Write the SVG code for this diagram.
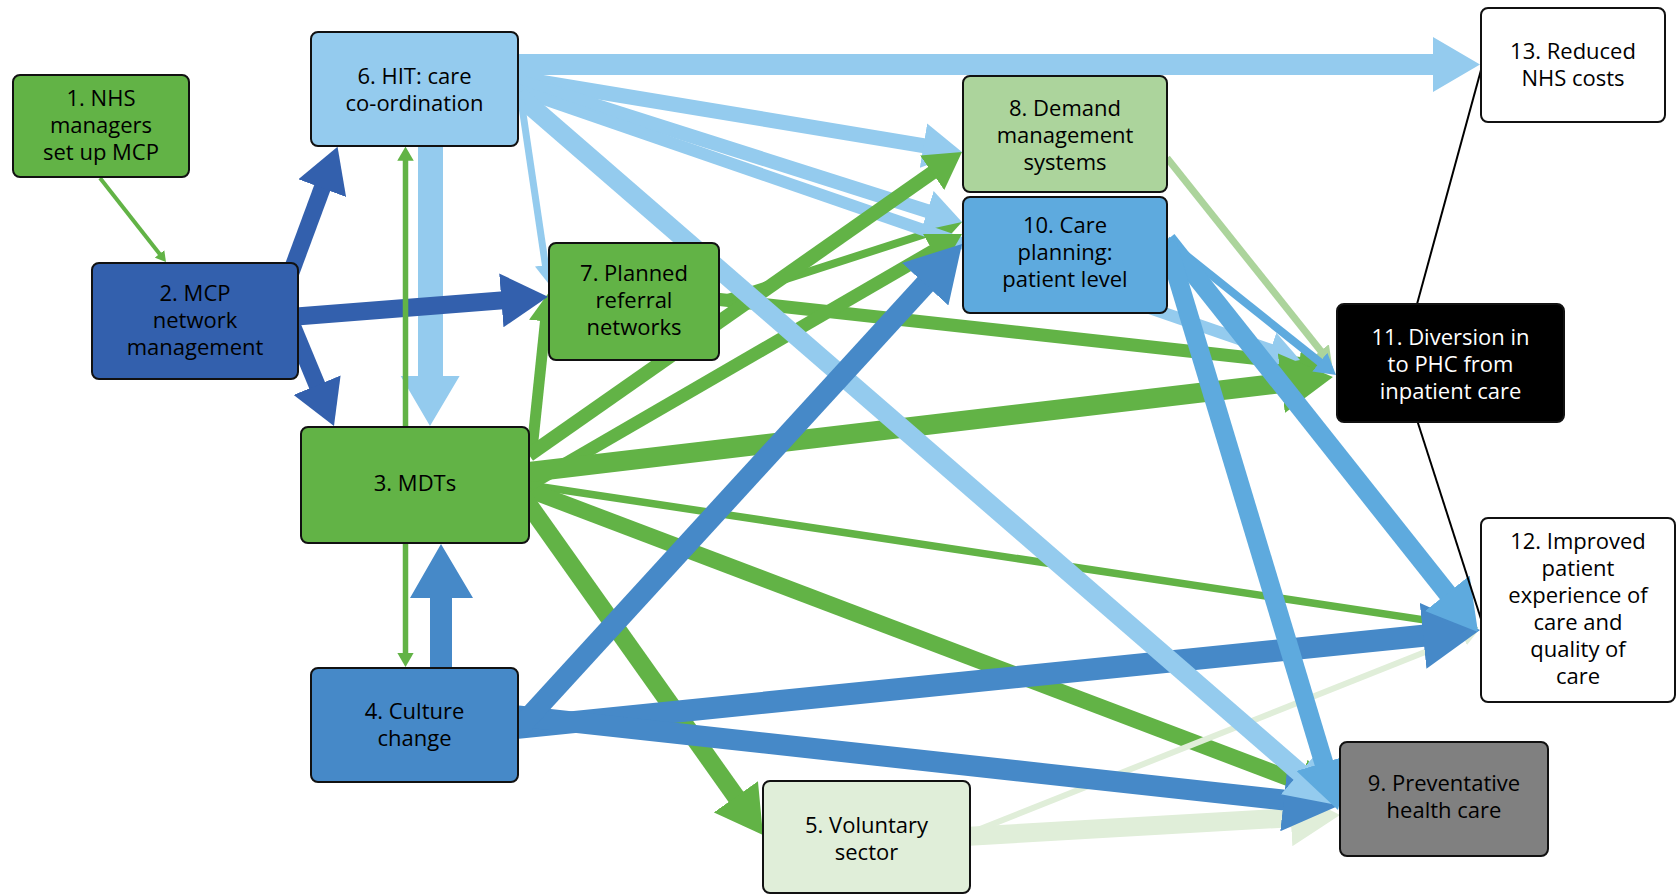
<svg xmlns="http://www.w3.org/2000/svg" width="1677" height="895" viewBox="0 0 1677 895">
<style>
.n{stroke:#111;stroke-width:2}
.t{font-family:"Open Sans","Noto Sans","Liberation Sans",sans-serif;font-size:22px;fill:#000;text-anchor:middle}
.w{fill:#fff}
.g{stroke:#62b346;marker-end:url(#mG)}
.db{stroke:#3360ad;marker-end:url(#mDB)}
.mb{stroke:#4689c8;marker-end:url(#mMB)}
.lb{stroke:#94cbee;marker-end:url(#mLB)}
.cb{stroke:#5eaade;marker-end:url(#mCB)}
.lg{stroke:#acd49c;marker-end:url(#mLG)}
.pg{stroke:#e0eed9;marker-end:url(#mPG)}
.k{stroke:#000;stroke-width:2}
</style>
<defs>
<marker id="mG" viewBox="0 0 2.6 3" refX="0.9" refY="1.5" markerWidth="2.6" markerHeight="3" orient="auto" markerUnits="strokeWidth"><path d="M0,0L2.6,1.5L0,3z" fill="#62b346"/></marker>
<marker id="mDB" viewBox="0 0 2.6 3" refX="0.9" refY="1.5" markerWidth="2.6" markerHeight="3" orient="auto" markerUnits="strokeWidth"><path d="M0,0L2.6,1.5L0,3z" fill="#3360ad"/></marker>
<marker id="mMB" viewBox="0 0 2.6 3" refX="0.9" refY="1.5" markerWidth="2.6" markerHeight="3" orient="auto" markerUnits="strokeWidth"><path d="M0,0L2.6,1.5L0,3z" fill="#4689c8"/></marker>
<marker id="mLB" viewBox="0 0 2.6 3" refX="0.9" refY="1.5" markerWidth="2.6" markerHeight="3" orient="auto" markerUnits="strokeWidth"><path d="M0,0L2.6,1.5L0,3z" fill="#94cbee"/></marker>
<marker id="mCB" viewBox="0 0 2.6 3" refX="0.9" refY="1.5" markerWidth="2.6" markerHeight="3" orient="auto" markerUnits="strokeWidth"><path d="M0,0L2.6,1.5L0,3z" fill="#5eaade"/></marker>
<marker id="mLG" viewBox="0 0 2.6 3" refX="0.9" refY="1.5" markerWidth="2.6" markerHeight="3" orient="auto" markerUnits="strokeWidth"><path d="M0,0L2.6,1.5L0,3z" fill="#acd49c"/></marker>
<marker id="mPG" viewBox="0 0 2.6 3" refX="0.9" refY="1.5" markerWidth="2.6" markerHeight="3" orient="auto" markerUnits="strokeWidth"><path d="M0,0L2.6,1.5L0,3z" fill="#e0eed9"/></marker>
</defs>
<rect width="1677" height="895" fill="#fff"/>
<g id="connectors">
<line class="g" x1="715" y1="299" x2="1311" y2="364.6" stroke-width="13"/>
<line class="g" x1="715" y1="302" x2="949.1" y2="226.2" stroke-width="8"/>
<line class="g" x1="532" y1="450" x2="546.5" y2="311.6" stroke-width="11"/>
<line class="g" x1="529" y1="485" x2="1465.4" y2="626.1" stroke-width="7.5"/>
<line class="g" x1="529" y1="490" x2="1312.6" y2="787.3" stroke-width="16"/>
<line class="g" x1="520" y1="492.3" x2="745.3" y2="810" stroke-width="18"/>
<line class="lb" x1="518" y1="78.5" x2="936.8" y2="147.8" stroke-width="15"/>
<line class="lb" x1="518" y1="81" x2="939.3" y2="214.8" stroke-width="14"/>
<line class="lb" x1="518" y1="90" x2="1280.7" y2="353.3" stroke-width="12"/>
<line class="g" x1="529" y1="455" x2="942.5" y2="165.6" stroke-width="14"/>
<line class="g" x1="529" y1="485" x2="942.9" y2="245.1" stroke-width="13"/>
<line class="g" x1="529" y1="472" x2="1299.2" y2="381" stroke-width="20"/>
<line class="pg" x1="965" y1="836.5" x2="1307.8" y2="816.8" stroke-width="19"/>
<line class="pg" x1="970" y1="833" x2="1468.5" y2="634.8" stroke-width="6"/>
<line class="lg" x1="1167" y1="158" x2="1324.6" y2="355.7" stroke-width="7"/>
<line class="mb" x1="518" y1="727.7" x2="1442.8" y2="633.8" stroke-width="22"/>
<line class="mb" x1="518" y1="716" x2="1302.5" y2="802.1" stroke-width="21"/>
<line class="lb" x1="518" y1="95" x2="1312.6" y2="783.8" stroke-width="19"/>
<line class="lb" x1="521" y1="100" x2="546.3" y2="271.2" stroke-width="7"/>
<path d="M515,54H1433V37L1480,64.5L1433,92V75H515Z" fill="#94cbee"/>
<path d="M418,140H443V376H459.6L430,426L400.7,376H418Z" fill="#94cbee"/>
<line class="mb" x1="518" y1="729" x2="937.9" y2="270.3" stroke-width="21"/>
<path d="M430,672V598H410L441,544L473,598H452V672Z" fill="#4689c8"/>
<line class="cb" x1="1167" y1="240" x2="1325.4" y2="366.5" stroke-width="8"/>
<line class="cb" x1="1167" y1="240" x2="1457.9" y2="606.7" stroke-width="19"/>
<line class="cb" x1="1167" y1="243" x2="1328.7" y2="779.1" stroke-width="19"/>
<line class="db" x1="290" y1="275" x2="327.5" y2="173.8" stroke-width="17"/>
<line class="db" x1="290" y1="317" x2="517.5" y2="299.1" stroke-width="18"/>
<line class="db" x1="290" y1="320" x2="322.9" y2="399.3" stroke-width="17"/>
<line class="g" x1="100" y1="178" x2="161.8" y2="256.7" stroke-width="4"/>
<line class="g" x1="405.5" y1="430" x2="405.5" y2="155.9" stroke-width="5.5"/>
<line class="g" x1="405.5" y1="540" x2="405.5" y2="657.7" stroke-width="5.5"/>
<line class="k" x1="1481" y1="70" x2="1416.5" y2="306"/>
<line class="k" x1="1417" y1="420" x2="1481" y2="619"/>
</g>
<g id="n1"><rect class="n" x="13" y="75" width="176" height="102" rx="7" fill="#62b346"/><text class="t"><tspan x="101" y="106">1. NHS</tspan><tspan x="101" y="133">managers</tspan><tspan x="101" y="160">set up MCP</tspan></text></g>
<g id="n2"><rect class="n" x="92" y="263" width="206" height="116" rx="7" fill="#3360ad"/><text class="t"><tspan x="195" y="301">2. MCP</tspan><tspan x="195" y="328">network</tspan><tspan x="195" y="355">management</tspan></text></g>
<g id="n6"><rect class="n" x="311" y="32" width="207" height="114" rx="7" fill="#94cbee"/><text class="t"><tspan x="414.5" y="84">6. HIT: care</tspan><tspan x="414.5" y="111">co-ordination</tspan></text></g>
<g id="n3"><rect class="n" x="301" y="427" width="228" height="116" rx="7" fill="#62b346"/><text class="t" x="415" y="491">3. MDTs</text></g>
<g id="n4"><rect class="n" x="311" y="668" width="207" height="114" rx="7" fill="#4689c8"/><text class="t"><tspan x="414.5" y="719">4. Culture</tspan><tspan x="414.5" y="746">change</tspan></text></g>
<g id="n5"><rect class="n" x="763" y="781" width="207" height="112" rx="7" fill="#e0eed9"/><text class="t"><tspan x="866.5" y="833">5. Voluntary</tspan><tspan x="866.5" y="860">sector</tspan></text></g>
<g id="n7"><rect class="n" x="549" y="243" width="170" height="117" rx="7" fill="#62b346"/><text class="t"><tspan x="634" y="281">7. Planned</tspan><tspan x="634" y="308">referral</tspan><tspan x="634" y="335">networks</tspan></text></g>
<g id="n8"><rect class="n" x="963" y="76" width="204" height="116" rx="7" fill="#acd49c"/><text class="t"><tspan x="1065" y="116">8. Demand</tspan><tspan x="1065" y="143">management</tspan><tspan x="1065" y="170">systems</tspan></text></g>
<g id="n10"><rect class="n" x="963" y="197" width="204" height="116" rx="7" fill="#5eaade"/><text class="t"><tspan x="1065" y="233">10. Care</tspan><tspan x="1065" y="260">planning:</tspan><tspan x="1065" y="287">patient level</tspan></text></g>
<g id="n11"><rect class="n" x="1337" y="304" width="227" height="118" rx="7" fill="#000"/><text class="t w"><tspan x="1450.5" y="345">11. Diversion in</tspan><tspan x="1450.5" y="372">to PHC from</tspan><tspan x="1450.5" y="399">inpatient care</tspan></text></g>
<g id="n13"><rect class="n" x="1481" y="8" width="184" height="114" rx="7" fill="#fff"/><text class="t"><tspan x="1573" y="59">13. Reduced</tspan><tspan x="1573" y="86">NHS costs</tspan></text></g>
<g id="n12"><rect class="n" x="1481" y="518" width="194" height="184" rx="7" fill="#fff"/><text class="t"><tspan x="1578" y="549">12. Improved</tspan><tspan x="1578" y="576">patient</tspan><tspan x="1578" y="603">experience of</tspan><tspan x="1578" y="630">care and</tspan><tspan x="1578" y="657">quality of</tspan><tspan x="1578" y="684">care</tspan></text></g>
<g id="n9"><rect class="n" x="1340" y="742" width="208" height="114" rx="7" fill="#808080"/><text class="t"><tspan x="1444" y="791">9. Preventative</tspan><tspan x="1444" y="818">health care</tspan></text></g>
</svg>
